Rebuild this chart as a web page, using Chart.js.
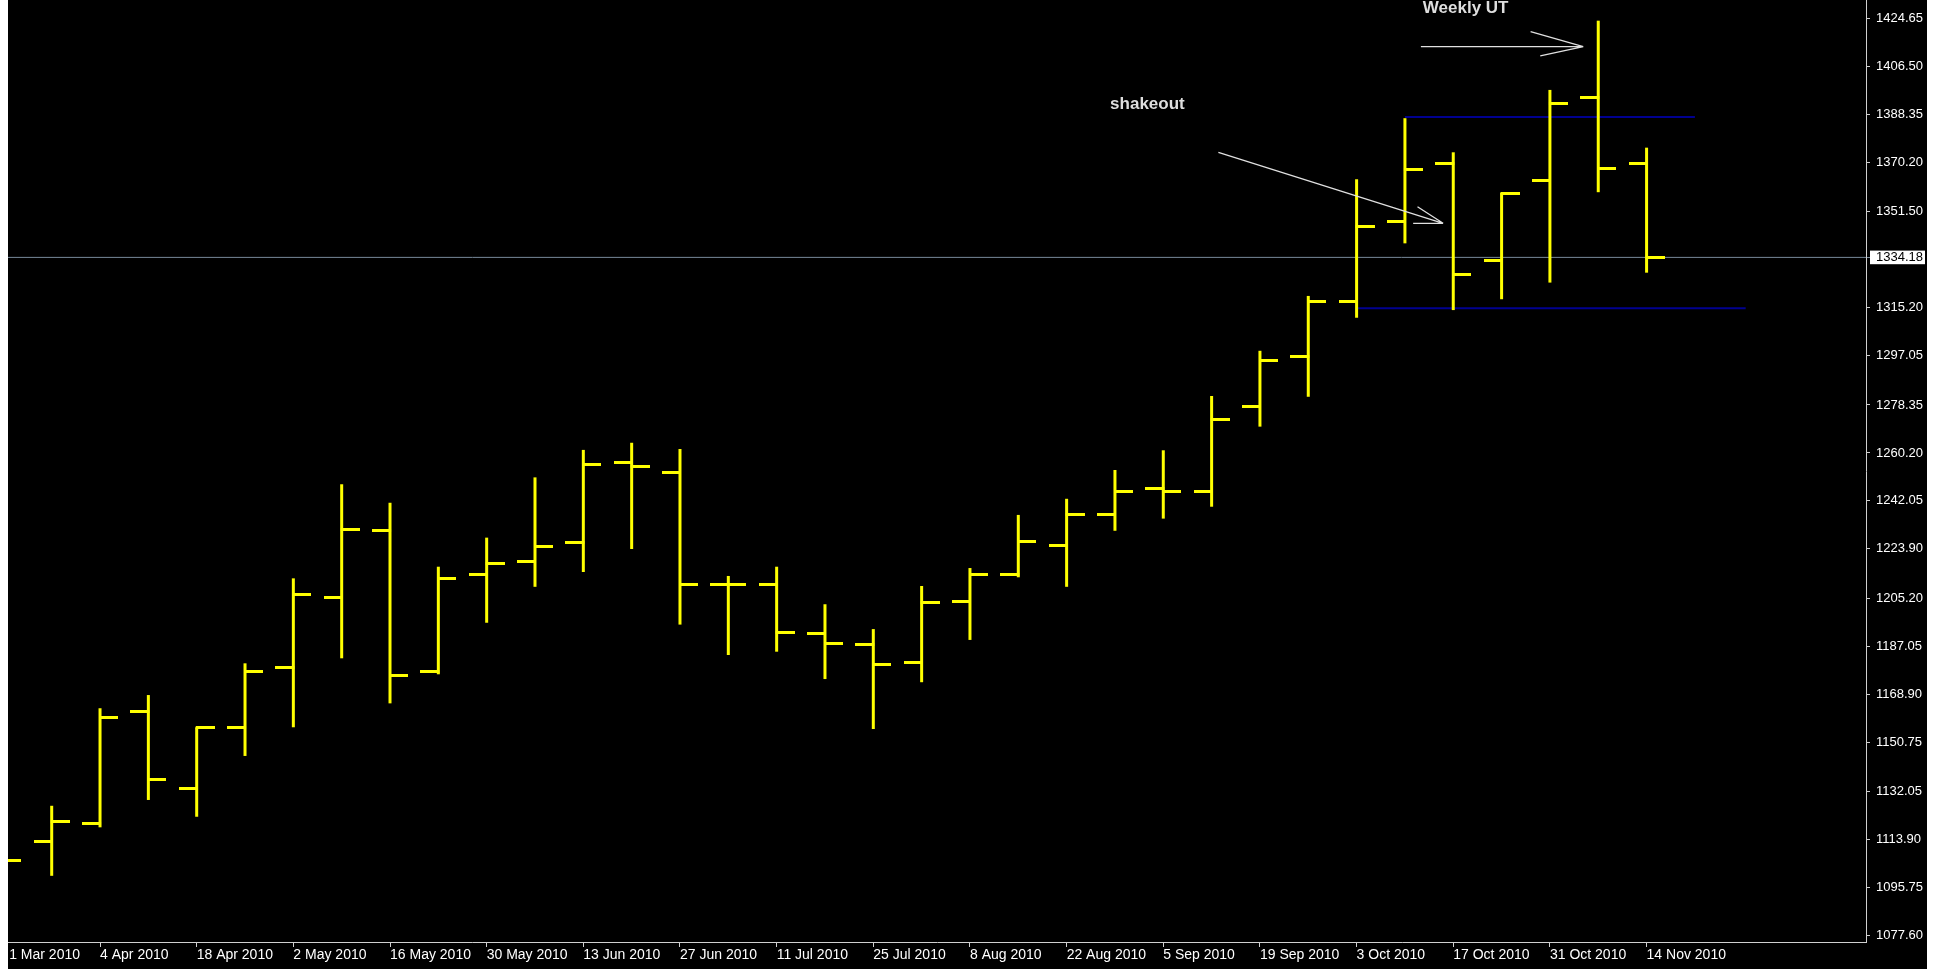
<!doctype html>
<html>

<head>
	<title>Weekly bars - shakeout / weekly UT</title>
	<script src="https://cdn.jsdelivr.net/npm/chart.js@4.4.1/dist/chart.umd.min.js"></script>
	<style>
		body {
			margin: 0;
			background: #fff;
		}
		#holder {
			position: absolute;
			left: 8px;
			top: 0;
			width: 1919px;
			height: 969px;
			background: #000;
		}
	</style>
</head>

<body>
	<div id="holder">
		<canvas id="chart"></canvas>
	</div>
	<script>
		// weekly bars, week starting
		var weeks = ['21 Mar', '28 Mar', '4 Apr', '11 Apr', '18 Apr', '25 Apr', '2 May', '9 May', '16 May', '23 May',
			'30 May', '6 Jun', '13 Jun', '20 Jun', '27 Jun', '4 Jul', '11 Jul', '18 Jul', '25 Jul', '1 Aug',
			'8 Aug', '15 Aug', '22 Aug', '29 Aug', '5 Sep', '12 Sep', '19 Sep', '26 Sep', '3 Oct', '10 Oct',
			'17 Oct', '24 Oct', '31 Oct', '7 Nov', '14 Nov'];
		var opens = [null, 1113.3, 1120.05, 1162.55, 1133.3, 1156.4, 1179.1, 1205.45, 1230.75, 1177.45,
			1214.05, 1219.05, 1226.35, 1256.75, 1252.85, 1210.5, 1210.5, 1191.7, 1187.55, 1180.85,
			1204.15, 1214.05, 1225.35, 1236.75, 1246.65, 1245.45, 1277.95, 1296.85, 1317.45, 1347.95,
			1369.65, 1332.95, 1363.2, 1394.75, 1369.65];
		var highs = [null, 1126.7, 1163.6, 1168.6, 1156.4, 1180.6, 1212.75, 1248.35, 1241.35, 1217.15,
			1228.15, 1250.95, 1261.35, 1264.05, 1261.7, 1213.65, 1217.15, 1202.95, 1193.55, 1209.85,
			1216.65, 1236.75, 1242.85, 1253.75, 1261.2, 1281.75, 1298.85, 1319.6, 1363.75, 1386.85,
			1373.95, 1358.65, 1397.55, 1423.75, 1375.7];
		var lows = [null, 1100.2, 1118.55, 1128.9, 1122.55, 1145.55, 1156.4, 1182.5, 1165.45, 1176.45,
			1195.95, 1209.55, 1215.15, 1223.85, 1195.25, 1183.75, 1185.0, 1174.65, 1155.75, 1173.45,
			1189.45, 1213.15, 1209.55, 1230.75, 1235.35, 1239.85, 1270.15, 1281.45, 1311.35, 1339.5,
			1314.25, 1318.35, 1324.65, 1358.85, 1328.4];
		var closes = [1105.9, 1120.7, 1160.25, 1136.7, 1156.25, 1177.45, 1206.55, 1231.15, 1176.15, 1212.85,
			1218.45, 1224.75, 1255.75, 1255.15, 1210.5, 1210.5, 1192.15, 1188.15, 1180.25, 1203.7,
			1214.05, 1226.65, 1236.75, 1245.45, 1245.45, 1272.95, 1295.1, 1317.45, 1346.05, 1367.25,
			1327.75, 1358.2, 1392.35, 1367.9, 1334.18];

		var currentPrice = 1334.18;
		var priceTicks = [1077.60, 1095.75, 1113.90, 1132.05, 1150.75, 1168.90, 1187.05, 1205.20, 1223.90, 1242.05,
			1260.20, 1278.35, 1297.05, 1315.20, 1334.18, 1351.50, 1370.20, 1388.35, 1406.50, 1424.65];
		var dateTickAt = [0.12, 2, 4, 6, 8, 10, 12, 14, 16, 18, 20, 22, 24, 26, 28, 30, 32, 34];
		var dateTickLabels = ['1 Mar 2010', '4 Apr 2010', '18 Apr 2010', '2 May 2010', '16 May 2010', '30 May 2010',
			'13 Jun 2010', '27 Jun 2010', '11 Jul 2010', '25 Jul 2010', '8 Aug 2010', '22 Aug 2010',
			'5 Sep 2010', '19 Sep 2010', '3 Oct 2010', '17 Oct 2010', '31 Oct 2010', '14 Nov 2010'];

		// drawn objects, in [bar index, price]
		var rangeTop = [[29, 1387.3], [35, 1387.3]];
		var rangeBottom = [[28, 1314.95], [36.05, 1314.95]];
		var shakeoutArrow = [[25.14, 1373.95], [29.79, 1347.09], null, [29.26, 1353.37], [29.79, 1347.09], null,
			[29.17, 1347.09], [29.79, 1347.09]];
		var upthrustArrow = [[29.33, 1413.9], [32.69, 1413.9], null, [31.60, 1419.58], [32.69, 1413.9], null,
			[31.80, 1410.39], [32.69, 1413.9]];
		var notes = [
			{text: 'shakeout', at: [22.90, 1390.2]},
			{text: 'Weekly UT', at: [29.37, 1426.7]}
		];

		var xMin = 0.0958, xMax = 38.54;
		var yMin = 1075.16, yMax = 1431.57;

		var makeTick = function(side) {
			var c = document.createElement('canvas');
			c.width = 36;
			c.height = 3;
			var g = c.getContext('2d');
			g.fillStyle = '#ffff00';
			if (side === 'open') {
				g.fillRect(0, 0, 19, 3);
			} else {
				g.fillRect(17, 0, 19, 3);
			}
			return c;
		};

		var toPoints = function(list) {
			return list.map(function(p) {
				return p ? {x: p[0], y: p[1]} : {x: null, y: null};
			});
		};

		var annotationText = {
			id: 'annotationText',
			afterDatasetsDraw: function(chart) {
				var ctx = chart.ctx;
				var xs = chart.scales.x;
				var ys = chart.scales.y;
				ctx.save();
				ctx.font = 'bold 17px "Liberation Sans", Arial, sans-serif';
				ctx.fillStyle = '#dedede';
				ctx.textAlign = 'left';
				ctx.textBaseline = 'alphabetic';
				notes.forEach(function(n) {
					ctx.fillText(n.text, xs.getPixelForValue(n.at[0]), ys.getPixelForValue(n.at[1]));
				});
				ctx.restore();
			}
		};

		var axisColor = '#d0d0d0';

		window.onload = function() {
			Chart.defaults.font.family = '"Liberation Sans", Arial, sans-serif';

			var chartEl = document.getElementById('chart');
			window.myChart = new Chart(chartEl, {
				type: 'bar',
				data: {
					datasets: [{
						label: 'range',
						data: weeks.map(function(w, i) {
							return {x: i, y: highs[i] === null ? null : [lows[i], highs[i]]};
						}),
						backgroundColor: '#ffff00',
						borderWidth: 0,
						inflateAmount: 0,
						barThickness: 3,
						clip: 0,
						order: 0
					}, {
						type: 'scatter',
						label: 'open',
						data: weeks.map(function(w, i) {
							return {x: i, y: opens[i]};
						}),
						pointStyle: makeTick('open'),
						pointRadius: 18,
						clip: 0,
						order: 0
					}, {
						type: 'scatter',
						label: 'close',
						data: weeks.map(function(w, i) {
							return {x: i, y: closes[i]};
						}),
						pointStyle: makeTick('close'),
						pointRadius: 18,
						clip: 0,
						order: 0
					}, {
						type: 'line',
						label: 'price',
						data: [{x: xMin, y: currentPrice}, {x: xMax, y: currentPrice}],
						borderColor: '#778899',
						borderWidth: 1,
						pointRadius: 0,
						clip: 0,
						order: 2
					}, {
						type: 'line',
						label: 'range top',
						data: toPoints(rangeTop),
						borderColor: '#000090',
						borderWidth: 2,
						pointRadius: 0,
						clip: 0,
						order: 2
					}, {
						type: 'line',
						label: 'range bottom',
						data: toPoints(rangeBottom),
						borderColor: '#000090',
						borderWidth: 2,
						pointRadius: 0,
						clip: 0,
						order: 2
					}, {
						type: 'line',
						label: 'shakeout arrow',
						data: toPoints(shakeoutArrow),
						borderColor: '#e0e0e0',
						borderWidth: 1.3,
						pointRadius: 0,
						spanGaps: false,
						clip: 0,
						order: -1
					}, {
						type: 'line',
						label: 'UT arrow',
						data: toPoints(upthrustArrow),
						borderColor: '#e0e0e0',
						borderWidth: 1.3,
						pointRadius: 0,
						spanGaps: false,
						clip: 0,
						order: -1
					}]
				},
				options: {
					responsive: true,
					maintainAspectRatio: false,
					animation: false,
					events: [],
					layout: {padding: 0, autoPadding: false},
					plugins: {
						legend: {display: false},
						tooltip: {enabled: false}
					},
					scales: {
						x: {
							type: 'linear',
							position: 'bottom',
							min: xMin,
							max: xMax,
							offset: false,
							grid: {
								offset: false,
								drawOnChartArea: false,
								drawTicks: true,
								tickLength: 5,
								tickColor: function(ctx) {
									return ctx.index === 0 ? 'rgba(0,0,0,0)' : axisColor;
								}
							},
							border: {display: true, color: axisColor, width: 1},
							afterBuildTicks: function(scale) {
								scale.ticks = dateTickAt.map(function(v) {
									return {value: v};
								});
							},
							afterFit: function(scale) {
								scale.height = 27;
								scale.paddingLeft = 0;
								scale.paddingRight = 0;
							},
							ticks: {
								autoSkip: false,
								maxRotation: 0,
								minRotation: 0,
								align: 'start',
								padding: 0,
								color: '#ffffff',
								font: {size: 14},
								callback: function(value, index) {
									return dateTickLabels[index];
								}
							}
						},
						y: {
							type: 'linear',
							position: 'right',
							min: yMin,
							max: yMax,
							beginAtZero: false,
							grid: {
								drawOnChartArea: false,
								drawTicks: true,
								tickLength: 4,
								tickColor: function(ctx) {
									return ctx.tick && ctx.tick.value === currentPrice ? '#778899' : axisColor;
								}
							},
							border: {display: true, color: axisColor, width: 1},
							afterBuildTicks: function(scale) {
								scale.ticks = priceTicks.map(function(v) {
									return {value: v};
								});
							},
							afterFit: function(scale) {
								scale.width = 61;
								scale.paddingTop = 0;
								scale.paddingBottom = 0;
							},
							ticks: {
								padding: 6,
								font: {size: 13},
								color: function(ctx) {
									return ctx.tick && ctx.tick.value === currentPrice ? '#000000' : '#ffffff';
								},
								showLabelBackdrop: function(ctx) {
									return !!(ctx.tick && ctx.tick.value === currentPrice);
								},
								backdropColor: '#ffffff',
								backdropPadding: {top: -1, bottom: -1, left: 6, right: 2},
								callback: function(value) {
									return Number(value).toFixed(2);
								}
							}
						}
					}
				},
				plugins: [annotationText]
			});
		};
	</script>
</body>

</html>
